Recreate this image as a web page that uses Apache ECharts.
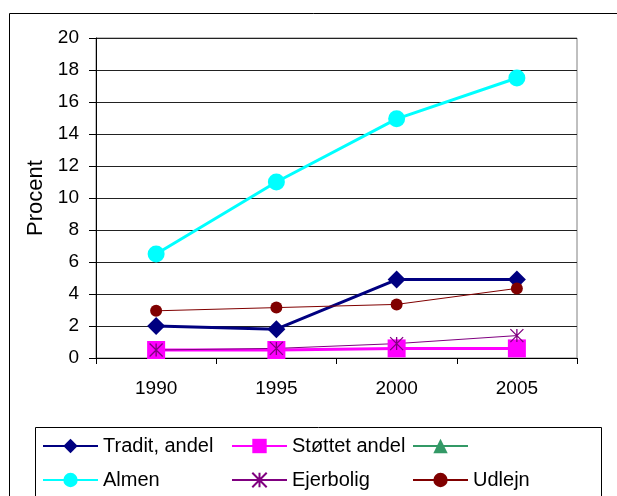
<!DOCTYPE html>
<html>
<head>
<meta charset="utf-8">
<script src="https://cdn.jsdelivr.net/npm/echarts@6/dist/echarts.min.js"></script>
<style>
html,body{margin:0;padding:0;background:#fff;}
#c{width:617px;height:496px;}
</style>
</head>
<body>
<div id="c"></div>
<script>
const years = ['1990', '1995', '2000', '2005'];
const tradit = [2.0, 1.8, 4.9, 4.9];
const stottet = [0.5, 0.5, 0.6, 0.6];
const tomSerie = [null, null, null, null];
const almen = [6.5, 11.0, 14.95, 17.5];
const ejerbolig = [0.5, 0.6, 0.9, 1.4];
const udlejn = [2.95, 3.15, 3.35, 4.35];
const seriesNames = ['Tradit, andel', 'Støttet andel', ' ', 'Almen', 'Ejerbolig', 'Udlejn'];
const yTicks = [0, 2, 4, 6, 8, 10, 12, 14, 16, 18, 20];

const FONT = '"Liberation Sans", Arial, sans-serif';
const asterisk = 'path://M0,0L10,10M10,0L0,10M5,0L5,10';

const chart = echarts.init(document.getElementById('c'), null, {renderer: 'canvas'});

function mkSeries(name, data, color, width, symbol, size, extra) {
  return Object.assign({
    name: name,
    type: 'line',
    data: data,
    symbol: symbol,
    symbolSize: size,
    showAllSymbol: true,
    animation: false,
    lineStyle: {color: color, width: width},
    itemStyle: {color: color, opacity: 1},
    emphasis: {disabled: true}
  }, extra || {});
}

const legendPos = [
  [42, 436], [231, 436], [412, 436],
  [42, 470], [231, 470], [412, 470]
];

const legends = seriesNames.map((n, i) => ({
  data: [n],
  left: legendPos[i][0],
  top: legendPos[i][1],
  padding: 0,
  itemWidth: 55,
  itemHeight: 18,
  selectedMode: false,
  textStyle: {fontFamily: FONT, fontSize: 20, color: '#000'}
}));

chart.setOption({
  backgroundColor: '#fff',
  animation: false,
  textStyle: {fontFamily: FONT},
  graphic: [
    {type: 'rect', shape: {x: 9.5, y: 13.5, width: 700, height: 600}, style: {fill: 'none', stroke: '#000', lineWidth: 1}, z: -10},
    {type: 'rect', shape: {x: 35.5, y: 427.5, width: 566, height: 100}, style: {fill: 'none', stroke: '#000', lineWidth: 1}, z: -10}
  ],
  legend: legends,
  grid: {left: 96, top: 38, right: 40, bottom: 138, show: true, borderColor: '#808080', borderWidth: 1, backgroundColor: 'transparent'},
  xAxis: {
    type: 'category',
    data: years,
    boundaryGap: true,
    axisLine: {lineStyle: {color: '#000', width: 1}},
    axisTick: {show: true, length: 6, lineStyle: {color: '#000'}},
    axisLabel: {fontFamily: FONT, fontSize: 19, color: '#000', margin: 21},
    splitLine: {show: false}
  },
  yAxis: {
    type: 'value',
    min: yTicks[0],
    max: yTicks[yTicks.length - 1],
    interval: 2,
    name: 'Procent',
    nameLocation: 'middle',
    nameGap: 49,
    nameTextStyle: {fontFamily: FONT, fontSize: 22, color: '#000'},
    axisLine: {show: true, lineStyle: {color: '#000', width: 1}},
    axisTick: {show: true, length: 7, lineStyle: {color: '#000'}},
    axisLabel: {fontFamily: FONT, fontSize: 19, color: '#000', margin: 17},
    splitLine: {show: true, lineStyle: {color: '#222', width: 1}}
  },
  series: [
    mkSeries(seriesNames[0], tradit, '#000080', 3, 'diamond', 18),
    mkSeries(seriesNames[1], stottet, '#FF00FF', 3, 'rect', 18),
    mkSeries(seriesNames[2], tomSerie, '#339966', 3, 'triangle', 14),
    mkSeries(seriesNames[3], almen, '#00FFFF', 3, 'circle', 17),
    mkSeries(seriesNames[4], ejerbolig, '#800080', 1, asterisk, 13, {
      itemStyle: {color: 'none', borderColor: '#800080', borderWidth: 1.3, opacity: 1}
    }),
    mkSeries(seriesNames[5], udlejn, '#800000', 1, 'circle', 12)
  ]
});
</script>
</body>
</html>
